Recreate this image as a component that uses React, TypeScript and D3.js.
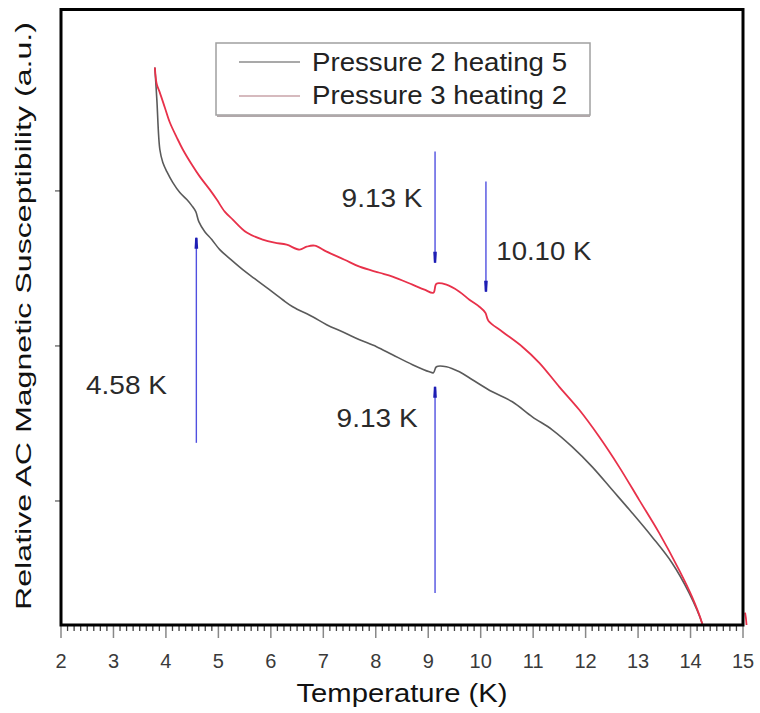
import React from "react";
import * as d3 from "d3";

// ---- data ----
const seriesNames = ["Pressure 2 heating 5", "Pressure 3 heating 2"];

const p2T = [3.789, 3.827, 3.884, 3.941, 4.018, 4.132, 4.265, 4.398, 4.493, 4.569, 4.627, 4.741, 4.874, 5.026, 5.217, 5.464, 5.692, 5.921, 6.225, 6.416, 6.796, 7.063, 7.405, 7.691, 8.014, 8.319, 8.7, 9.023, 9.099, 9.156, 9.347, 9.594, 9.842, 10.222, 10.603, 10.984, 11.364, 11.745, 12.126, 12.506, 12.887, 13.268, 13.648, 13.972, 14.219, 14.3];
const p2V = [3.796, 3.589, 3.267, 3.183, 3.124, 3.053, 2.989, 2.944, 2.905, 2.866, 2.802, 2.737, 2.686, 2.621, 2.563, 2.492, 2.434, 2.376, 2.298, 2.253, 2.188, 2.137, 2.085, 2.04, 1.995, 1.943, 1.879, 1.833, 1.827, 1.866, 1.866, 1.833, 1.782, 1.704, 1.64, 1.543, 1.459, 1.349, 1.22, 1.072, 0.923, 0.768, 0.6, 0.407, 0.213, 0.1];

const p3T = [3.789, 3.827, 3.884, 3.979, 4.075, 4.208, 4.322, 4.493, 4.646, 4.836, 4.969, 5.121, 5.274, 5.54, 5.845, 6.073, 6.301, 6.549, 6.682, 6.834, 7.063, 7.405, 7.691, 8.072, 8.319, 8.7, 8.928, 9.099, 9.156, 9.347, 9.594, 9.785, 9.975, 10.089, 10.146, 10.413, 10.793, 11.117, 11.498, 11.878, 12.259, 12.639, 13.02, 13.401, 13.781, 14.029, 14.219, 14.3, 15.02, 15.04];
const p3V = [3.796, 3.686, 3.634, 3.538, 3.441, 3.344, 3.267, 3.17, 3.092, 3.008, 2.944, 2.866, 2.815, 2.731, 2.686, 2.666, 2.653, 2.621, 2.64, 2.647, 2.608, 2.556, 2.511, 2.472, 2.447, 2.395, 2.363, 2.343, 2.401, 2.395, 2.35, 2.298, 2.253, 2.214, 2.163, 2.092, 1.995, 1.891, 1.736, 1.588, 1.414, 1.22, 1.007, 0.794, 0.555, 0.381, 0.213, 0.1, 0.1, 0.28];

// annotation arrows: temperature, start value, end value (arrow points to end)
const arrowT = [4.58, 9.13, 9.13, 10.1];
const arrowFrom = [1.375, 0.407, 3.254, 3.06];
const arrowTo = [2.698, 1.736, 2.537, 2.35];

const annoText = ["4.58 K", "9.13 K", "9.13 K", "10.10 K"];
const annoT = [2.476, 7.253, 7.348, 10.298];
const annoV = [1.691, 1.478, 2.899, 2.556];

const xTicks = [2, 3, 4, 5, 6, 7, 8, 9, 10, 11, 12, 13, 14, 15];
const yTicks = [1, 2, 3];

const colors = ["#5a5a5a", "#e8314a"];
const legendColors = ["#8c8c8c", "#c9a3a9"];

const W = 760;
const H = 713;
const M = { left: 61, right: 743, top: 9.5, bottom: 625 };

export default function App() {
  const x = d3.scaleLinear().domain([2, 15]).range([M.left, M.right]);
  const y = d3.scaleLinear().domain([0.2, 4.17]).range([M.bottom, M.top]);

  const line = d3
    .line<[number, number]>()
    .x((d) => x(d[0]))
    .y((d) => y(d[1]))
    .curve(d3.curveCatmullRom.alpha(0.5));

  const s1 = p2T.map((t, i) => [t, p2V[i]] as [number, number]);
  const s2 = p3T.map((t, i) => [t, p3V[i]] as [number, number]);

  const minor = d3.range(2, 15.0001, 0.125).filter((v) => Math.abs(v - Math.round(v)) > 1e-6);

  const font = "'Liberation Sans', Arial, sans-serif";

  return (
    <svg width={W} height={H} style={{ display: "block", position: "absolute", left: 0, top: 0, background: "#fff" }}>
      <defs>
        <clipPath id="plotclip">
          <rect x={M.left} y={M.top} width={M.right - M.left + 8} height={M.bottom - M.top} />
        </clipPath>
      </defs>

      {/* series */}
      <g clipPath="url(#plotclip)">
        <path d={line(s1) || ""} fill="none" stroke={colors[0]} strokeWidth={1.6} strokeLinejoin="round" />
        <path d={line(s2) || ""} fill="none" stroke={colors[1]} strokeWidth={1.8} strokeLinejoin="round" />
      </g>

      {/* arrows */}
      {arrowT.map((t, i) => {
        const ax = x(t);
        const y0 = y(arrowFrom[i]);
        const y1 = y(arrowTo[i]);
        const dir = y1 < y0 ? -1 : 1;
        const hb = y1 - dir * 11;
        return (
          <g key={"arr" + i}>
            <line x1={ax} x2={ax} y1={y0} y2={y1} stroke="#5050e0" strokeWidth={1.4} />
            <path d={`M${ax - 1.8},${hb} L${ax + 1.8},${hb} L${ax + 1.2},${y1} L${ax - 1.2},${y1} Z`} fill="#1e1eb4" />
          </g>
        );
      })}

      {/* annotation labels */}
      {annoText.map((s, i) => (
        <text key={"an" + i} x={x(annoT[i])} y={y(annoV[i])} fontFamily={font} fontSize={25} fill="#2a2a2a"
          textLength={s.length > 6 ? 95 : 81} lengthAdjust="spacingAndGlyphs">
          {s}
        </text>
      ))}

      {/* y ticks */}
      {yTicks.map((v) => (
        <line key={"yt" + v} x1={M.left - 6} x2={M.left} y1={y(v)} y2={y(v)} stroke="#777" strokeWidth={1.5} />
      ))}

      {/* x minor ticks */}
      {minor.map((v, i) => (
        <line key={"mt" + i} x1={x(v)} x2={x(v)} y1={M.bottom} y2={M.bottom + 6} stroke="#444" strokeWidth={1.3} />
      ))}
      {/* x major ticks */}
      {xTicks.map((v) => (
        <line key={"xt" + v} x1={x(v)} x2={x(v)} y1={M.bottom} y2={M.bottom + 13} stroke="#888" strokeWidth={1.5} />
      ))}
      {xTicks.map((v) => (
        <text key={"xl" + v} x={x(v)} y={668} textAnchor="middle" fontFamily={font} fontSize={20} fill="#3a3a3a">
          {v}
        </text>
      ))}

      {/* frame */}
      <rect x={M.left} y={M.top} width={M.right - M.left} height={M.bottom - M.top} fill="none" stroke="#000" strokeWidth={3} />

      {/* axis titles */}
      <text x={402} y={702} textAnchor="middle" fontFamily={font} fontSize={26} fill="#111" textLength={211} lengthAdjust="spacingAndGlyphs">
        Temperature (K)
      </text>
      <text transform="translate(31,316) rotate(-90)" textAnchor="middle" fontFamily={font} fontSize={22} fill="#111"
        textLength={588} lengthAdjust="spacingAndGlyphs">
        Relative AC Magnetic Susceptibility (a.u.)
      </text>

      {/* legend */}
      <g>
        <rect x={216} y={43} width={374} height={72} fill="#fff" stroke="#a0a0a0" strokeWidth={1.5} />
        <line x1={217} x2={590} y1={116} y2={116} stroke="#b0a8aa" strokeWidth={2} />
        {seriesNames.map((n, i) => (
          <g key={"lg" + i}>
            <line x1={239} x2={300} y1={62 + i * 34} y2={62 + i * 34} stroke={legendColors[i]} strokeWidth={1.5} />
            <text x={312} y={71 + i * 33} fontFamily={font} fontSize={25} fill="#222" textLength={255} lengthAdjust="spacingAndGlyphs">
              {n}
            </text>
          </g>
        ))}
      </g>
    </svg>
  );
}
